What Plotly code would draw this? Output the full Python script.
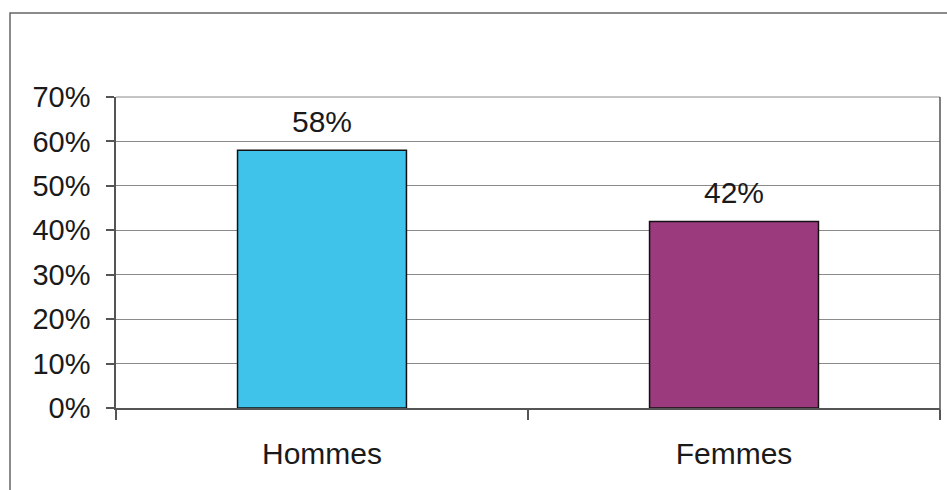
import plotly.graph_objects as go

categories = ["Hommes", "Femmes"]
values = [58, 42]
bar_colors = ["#3fc3ea", "#9b3b7e"]
y_ticks = [0, 10, 20, 30, 40, 50, 60, 70]
y_tick_labels = [f"{v}%" for v in y_ticks]

FONT = "Liberation Sans, Arial, sans-serif"

fig = go.Figure(go.Bar(
    x=categories,
    y=values,
    marker=dict(color=bar_colors, line=dict(color="#111111", width=1.5)),
    width=0.41,
    cliponaxis=False,
))

for c, v in zip(categories, values):
    fig.add_annotation(
        x=c, y=v, text=f"{v}%", showarrow=False,
        yanchor="bottom", yshift=10,
        font=dict(family=FONT, size=30, color="#1a1a1a"),
    )

fig.update_layout(
    width=947, height=490,
    margin=dict(l=116, r=7, t=97, b=82),
    paper_bgcolor="white",
    plot_bgcolor="white",
    showlegend=False,
    font=dict(family=FONT, size=29, color="#1a1a1a"),
    xaxis=dict(
        showgrid=False,
        showline=True, linecolor="#555555", linewidth=1.5,
        ticks="outside", tickson="boundaries", ticklen=10,
        tickcolor="#555555", tickwidth=1.5,
        ticklabelstandoff=18,
        tickfont=dict(family=FONT, size=30, color="#1a1a1a"),
        mirror=False,
    ),
    yaxis=dict(
        range=[0, 70],
        tickvals=y_ticks, ticktext=y_tick_labels,
        showgrid=True, gridcolor="#8a8a8a", gridwidth=1,
        showline=True, linecolor="#555555", linewidth=1.5,
        ticks="outside", ticklen=8, tickcolor="#555555", tickwidth=1.5,
        ticklabelstandoff=10,
        tickfont=dict(family=FONT, size=29, color="#1a1a1a"),
        zeroline=False,
    ),
    shapes=[
        # top gridline (70%)
        dict(type="line", xref="paper", yref="paper", x0=0, x1=1, y0=1, y1=1,
             line=dict(color="#8a8a8a", width=1)),
        # right border of plot area
        dict(type="line", xref="paper", yref="paper", x0=1, x1=1, y0=-0.035, y1=1,
             line=dict(color="#555555", width=1.5)),
        # outer chart border
        dict(type="rect", xref="paper", yref="paper",
             x0=-106/824, x1=1.02, y0=-0.3, y1=(408-13)/311,
             line=dict(color="#666666", width=1.5), fillcolor="rgba(0,0,0,0)"),
    ],
)

fig.write_html("out.html", config={"displayModeBar": False},
               post_script="document.body.style.margin='0';")
